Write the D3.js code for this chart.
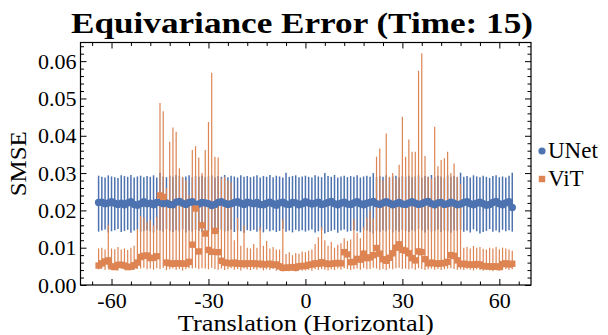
<!DOCTYPE html>
<head>
    <meta charset="utf-8">
    <script src="https://d3js.org/d3.v7.min.js"></script>
    <style>
        body { margin: 0; background: #fff; }
        text { font-family: "Liberation Serif", "Times New Roman", Times, serif; fill: #000; }
    </style>
</head>
<body>
    <svg width="608" height="335"></svg>
    <script>
        var width = 608, height = 335;

        // translations (pixels), -64 .. 64
        var translations = d3.range(-64, 65);

        var unetMean = [
            0.0221,0.0222,0.0218,0.0220,0.0223,0.0219,0.0216,0.0219,0.0215,0.0220,0.0223,0.0216,0.0214,0.0218,0.0223,0.0218,
            0.0219,0.0215,0.0221,0.0222,0.0218,0.0220,0.0216,0.0215,0.0222,0.0224,0.0219,0.0216,0.0221,0.0223,0.0216,0.0217,
            0.0221,0.0220,0.0218,0.0213,0.0216,0.0221,0.0223,0.0219,0.0216,0.0218,0.0221,0.0223,0.0219,0.0216,0.0222,0.0220,
            0.0218,0.0221,0.0216,0.0215,0.0219,0.0222,0.0218,0.0214,0.0220,0.0222,0.0217,0.0216,0.0221,0.0220,0.0215,0.0218,
            0.0223,0.0220,0.0217,0.0219,0.0222,0.0216,0.0218,0.0221,0.0224,0.0218,0.0215,0.0219,0.0222,0.0217,0.0216,0.0220,
            0.0223,0.0218,0.0215,0.0219,0.0221,0.0224,0.0218,0.0216,0.0220,0.0223,0.0219,0.0215,0.0218,0.0221,0.0217,0.0216,
            0.0220,0.0223,0.0219,0.0216,0.0218,0.0222,0.0224,0.0218,0.0215,0.0220,0.0221,0.0216,0.0218,0.0222,0.0219,0.0215,
            0.0217,0.0221,0.0223,0.0218,0.0215,0.0219,0.0222,0.0218,0.0214,0.0216,0.0221,0.0224,0.0218,0.0215,0.0220,0.0223,
            0.0208];
        var unetHi = [
            0.0293,0.0290,0.0288,0.0294,0.0291,0.0289,0.0287,0.0294,0.0292,0.0290,0.0295,0.0288,0.0291,0.0293,0.0289,0.0292,
            0.0290,0.0294,0.0288,0.0301,0.0291,0.0289,0.0293,0.0290,0.0295,0.0292,0.0288,0.0291,0.0294,0.0289,0.0292,0.0290,
            0.0293,0.0289,0.0291,0.0294,0.0288,0.0292,0.0290,0.0295,0.0289,0.0293,0.0291,0.0288,0.0294,0.0290,0.0292,0.0289,
            0.0291,0.0294,0.0288,0.0292,0.0290,0.0295,0.0289,0.0293,0.0291,0.0288,0.0301,0.0290,0.0292,0.0294,0.0289,0.0291,
            0.0293,0.0290,0.0288,0.0294,0.0291,0.0289,0.0300,0.0292,0.0290,0.0295,0.0288,0.0291,0.0293,0.0289,0.0292,0.0290,
            0.0294,0.0288,0.0291,0.0293,0.0290,0.0300,0.0289,0.0292,0.0290,0.0294,0.0288,0.0291,0.0293,0.0289,0.0292,0.0290,
            0.0293,0.0289,0.0291,0.0294,0.0288,0.0292,0.0290,0.0295,0.0289,0.0293,0.0291,0.0288,0.0294,0.0290,0.0292,0.0289,
            0.0301,0.0290,0.0292,0.0288,0.0294,0.0291,0.0289,0.0293,0.0290,0.0287,0.0292,0.0294,0.0289,0.0291,0.0288,0.0293,
            0.0301];
        var unetLo = [
            0.0143,0.0146,0.0149,0.0141,0.0144,0.0147,0.0150,0.0142,0.0145,0.0148,0.0140,0.0146,0.0149,0.0143,0.0145,0.0147,
            0.0144,0.0141,0.0148,0.0146,0.0143,0.0150,0.0145,0.0142,0.0147,0.0144,0.0149,0.0141,0.0146,0.0143,0.0148,0.0145,
            0.0142,0.0147,0.0144,0.0150,0.0146,0.0141,0.0148,0.0143,0.0145,0.0149,0.0142,0.0146,0.0144,0.0140,0.0147,0.0145,
            0.0148,0.0143,0.0146,0.0141,0.0149,0.0144,0.0147,0.0142,0.0145,0.0150,0.0143,0.0146,0.0141,0.0148,0.0144,0.0147,
            0.0143,0.0146,0.0149,0.0141,0.0144,0.0147,0.0138,0.0142,0.0145,0.0148,0.0140,0.0146,0.0149,0.0143,0.0145,0.0147,
            0.0144,0.0141,0.0148,0.0146,0.0143,0.0138,0.0145,0.0142,0.0147,0.0144,0.0149,0.0141,0.0146,0.0143,0.0148,0.0145,
            0.0142,0.0147,0.0144,0.0150,0.0146,0.0141,0.0148,0.0143,0.0145,0.0149,0.0142,0.0146,0.0144,0.0140,0.0147,0.0145,
            0.0148,0.0143,0.0146,0.0141,0.0149,0.0144,0.0138,0.0142,0.0145,0.0150,0.0143,0.0146,0.0141,0.0148,0.0144,0.0147,
            0.0143];

        var vitMean = [
            0.0052,0.0058,0.0063,0.0066,0.0050,0.0048,0.0054,0.0054,0.0052,0.0048,0.0049,0.0053,0.0060,0.0075,0.0078,0.0079,
            0.0072,0.0073,0.0077,0.0240,0.0236,0.0060,0.0058,0.0057,0.0058,0.0058,0.0057,0.0057,0.0062,0.0108,0.0205,0.0090,
            0.0160,0.0138,0.0094,0.0089,0.0145,0.0088,0.0065,0.0060,0.0059,0.0058,0.0060,0.0057,0.0058,0.0056,0.0058,0.0057,
            0.0058,0.0056,0.0057,0.0055,0.0056,0.0057,0.0054,0.0055,0.0050,0.0046,0.0046,0.0047,0.0048,0.0046,0.0050,0.0051,
            0.0051,0.0054,0.0055,0.0058,0.0057,0.0061,0.0058,0.0056,0.0057,0.0058,0.0059,0.0058,0.0088,0.0082,0.0061,0.0062,
            0.0070,0.0068,0.0084,0.0072,0.0074,0.0080,0.0099,0.0084,0.0069,0.0065,0.0073,0.0085,0.0100,0.0109,0.0094,0.0092,
            0.0085,0.0072,0.0066,0.0090,0.0088,0.0069,0.0058,0.0060,0.0058,0.0057,0.0058,0.0059,0.0062,0.0080,0.0078,0.0066,
            0.0056,0.0057,0.0055,0.0055,0.0054,0.0056,0.0055,0.0051,0.0050,0.0050,0.0049,0.0050,0.0048,0.0056,0.0058,0.0055,
            0.0057];
        var vitHi = [
            0.0098,0.0100,0.0095,0.0160,0.0098,0.0096,0.0102,0.0095,0.0098,0.0094,0.0100,0.0105,0.0150,0.0185,0.0180,0.0168,
            0.0175,0.0160,0.0182,0.0488,0.0466,0.0260,0.0384,0.0422,0.0411,0.0313,0.0290,0.0280,0.0240,0.0362,0.0372,0.0342,
            0.0300,0.0362,0.0437,0.0569,0.0344,0.0342,0.0285,0.0290,0.0280,0.0275,0.0120,0.0180,0.0105,0.0160,0.0100,0.0098,
            0.0110,0.0100,0.0155,0.0105,0.0118,0.0098,0.0102,0.0095,0.0095,0.0176,0.0083,0.0088,0.0080,0.0086,0.0084,0.0090,
            0.0088,0.0092,0.0095,0.0110,0.0128,0.0155,0.0120,0.0105,0.0115,0.0100,0.0108,0.0112,0.0125,0.0118,0.0122,0.0176,
            0.0140,0.0125,0.0155,0.0180,0.0200,0.0178,0.0344,0.0366,0.0280,0.0406,0.0290,0.0300,0.0285,0.0322,0.0451,0.0344,
            0.0390,0.0357,0.0357,0.0574,0.0621,0.0346,0.0290,0.0285,0.0424,0.0318,0.0335,0.0340,0.0357,0.0300,0.0326,0.0290,
            0.0270,0.0100,0.0102,0.0098,0.0105,0.0100,0.0102,0.0097,0.0095,0.0100,0.0098,0.0102,0.0096,0.0100,0.0098,0.0095,
            0.0092];
        var vitLo = [
            0.0042,0.0044,0.0040,0.0045,0.0041,0.0043,0.0039,0.0044,0.0042,0.0040,0.0045,0.0041,0.0043,0.0044,0.0046,0.0042,
            0.0044,0.0041,0.0045,0.0043,0.0046,0.0040,0.0042,0.0044,0.0041,0.0043,0.0039,0.0042,0.0045,0.0044,0.0046,0.0043,
            0.0045,0.0044,0.0042,0.0046,0.0043,0.0041,0.0044,0.0040,0.0042,0.0045,0.0041,0.0043,0.0039,0.0044,0.0042,0.0040,
            0.0043,0.0041,0.0044,0.0039,0.0042,0.0040,0.0043,0.0038,0.0041,0.0036,0.0038,0.0037,0.0039,0.0036,0.0040,0.0038,
            0.0039,0.0041,0.0038,0.0042,0.0040,0.0043,0.0041,0.0039,0.0042,0.0040,0.0044,0.0041,0.0045,0.0043,0.0040,0.0042,
            0.0044,0.0041,0.0045,0.0042,0.0043,0.0046,0.0044,0.0041,0.0043,0.0040,0.0044,0.0042,0.0045,0.0046,0.0043,0.0044,
            0.0042,0.0044,0.0041,0.0045,0.0043,0.0040,0.0042,0.0044,0.0041,0.0043,0.0040,0.0042,0.0044,0.0045,0.0043,0.0041,
            0.0042,0.0040,0.0043,0.0041,0.0039,0.0042,0.0040,0.0038,0.0041,0.0039,0.0037,0.0040,0.0038,0.0041,0.0043,0.0040,
            0.0042];

        var xTicks = [-60, -30, 0, 30, 60];
        var yTicks = [0, 0.01, 0.02, 0.03, 0.04, 0.05, 0.06];
        var seriesNames = ["UNet", "ViT"];
        var colors = ["#4c72b0", "#dd8452"];

        // plot frame (pixels)
        var fLeft = 80.5, fRight = 531, fTop = 42.5, fBottom = 285;
        var svg = d3.select("svg");
        var serif = '"Liberation Serif", "Times New Roman", Times, serif';

        var x = d3.scaleLinear().domain([-69.6, 69.8]).range([fLeft, fRight]);
        var y = d3.scaleLinear().domain([0, 0.065]).range([fBottom, fTop]);

        var xMinor = d3.range(-66, 67, 6).filter(d => xTicks.indexOf(d) < 0);
        var yMinor = d3.range(1, 33).filter(d => d % 5 != 0).map(d => d * 0.002);

        var unet = translations.map((t, i) => ({ t: t, m: unetMean[i], lo: unetLo[i], hi: unetHi[i] }));
        var vit = translations.map((t, i) => ({ t: t, m: vitMean[i], lo: vitLo[i], hi: vitHi[i] }));

        // error bars
        svg.append("g")
            .attr("stroke", colors[0])
            .attr("stroke-width", 1.5)
            .selectAll("line")
            .data(unet)
            .enter().append("line")
            .attr("x1", d => x(d.t)).attr("x2", d => x(d.t))
            .attr("y1", d => y(d.lo)).attr("y2", d => y(d.hi));

        svg.append("g")
            .attr("stroke", colors[1])
            .attr("stroke-width", 1.2)
            .selectAll("line")
            .data(vit)
            .enter().append("line")
            .attr("x1", d => x(d.t)).attr("x2", d => x(d.t))
            .attr("y1", d => y(d.lo)).attr("y2", d => y(d.hi));

        // points
        svg.append("g")
            .attr("fill", colors[0])
            .selectAll("circle")
            .data(unet)
            .enter().append("circle")
            .attr("cx", d => x(d.t))
            .attr("cy", d => y(d.m))
            .attr("r", 3.7);

        svg.append("g")
            .attr("fill", colors[1])
            .selectAll("rect")
            .data(vit)
            .enter().append("rect")
            .attr("x", d => x(d.t) - 3.2)
            .attr("y", d => y(d.m) - 3.2)
            .attr("width", 6.4)
            .attr("height", 6.4);

        // frame + ticks (inward)
        function styleAxis(g) {
            g.select(".domain").remove();
            g.selectAll("line").attr("stroke", "#000").attr("stroke-width", 1);
            g.selectAll("text").attr("font-family", null).style("font-family", serif).style("font-size", "22px");
        }

        svg.append("g").attr("transform", `translate(0,${fBottom})`)
            .call(d3.axisBottom(x).tickValues(xTicks).tickFormat(d => String(d))
                .tickSizeInner(-6).tickSizeOuter(0).tickPadding(7))
            .call(styleAxis);
        svg.append("g").attr("transform", `translate(0,${fBottom})`)
            .call(d3.axisBottom(x).tickValues(xMinor).tickFormat("").tickSizeInner(-3.5).tickSizeOuter(0))
            .call(styleAxis);
        svg.append("g").attr("transform", `translate(0,${fTop})`)
            .call(d3.axisTop(x).tickValues(xTicks).tickFormat("").tickSizeInner(-6).tickSizeOuter(0))
            .call(styleAxis);
        svg.append("g").attr("transform", `translate(0,${fTop})`)
            .call(d3.axisTop(x).tickValues(xMinor).tickFormat("").tickSizeInner(-3.5).tickSizeOuter(0))
            .call(styleAxis);

        svg.append("g").attr("transform", `translate(${fLeft},0)`)
            .call(d3.axisLeft(y).tickValues(yTicks).tickFormat(d3.format(".2f"))
                .tickSizeInner(-6).tickSizeOuter(0).tickPadding(4))
            .call(styleAxis);
        svg.append("g").attr("transform", `translate(${fLeft},0)`)
            .call(d3.axisLeft(y).tickValues(yMinor).tickFormat("").tickSizeInner(-3.5).tickSizeOuter(0))
            .call(styleAxis);
        svg.append("g").attr("transform", `translate(${fRight},0)`)
            .call(d3.axisRight(y).tickValues(yTicks).tickFormat("").tickSizeInner(-6).tickSizeOuter(0))
            .call(styleAxis);
        svg.append("g").attr("transform", `translate(${fRight},0)`)
            .call(d3.axisRight(y).tickValues(yMinor).tickFormat("").tickSizeInner(-3.5).tickSizeOuter(0))
            .call(styleAxis);

        svg.append("rect")
            .attr("x", fLeft).attr("y", fTop)
            .attr("width", fRight - fLeft).attr("height", fBottom - fTop)
            .attr("fill", "none").attr("stroke", "#000").attr("stroke-width", 1.2);

        // title + labels
        svg.append("text")
            .attr("x", 302).attr("y", 33)
            .attr("text-anchor", "middle")
            .attr("textLength", 462).attr("lengthAdjust", "spacingAndGlyphs")
            .style("font-family", serif)
            .style("font-size", "29px").style("font-weight", "bold")
            .text("Equivariance Error (Time: 15)");

        svg.append("text")
            .attr("x", (fLeft + fRight) / 2).attr("y", 331)
            .attr("text-anchor", "middle")
            .attr("textLength", 256).attr("lengthAdjust", "spacingAndGlyphs")
            .style("font-family", serif)
            .style("font-size", "23px")
            .text("Translation (Horizontal)");

        svg.append("text")
            .attr("transform", `translate(26,${(fTop + fBottom) / 2}) rotate(-90)`)
            .attr("text-anchor", "middle")
            .attr("textLength", 65).attr("lengthAdjust", "spacingAndGlyphs")
            .style("font-family", serif)
            .style("font-size", "24px")
            .text("SMSE");

        // legend
        var legend = svg.append("g").attr("transform", "translate(542,151)");
        legend.append("circle").attr("cx", 0).attr("cy", 0).attr("r", 3.6).attr("fill", colors[0]);
        legend.append("rect").attr("x", -3.2).attr("y", 28 - 3.2).attr("width", 6.4).attr("height", 6.4).attr("fill", colors[1]);
        legend.selectAll("text")
            .data(seriesNames)
            .enter().append("text")
            .attr("x", 6)
            .attr("y", (d, i) => 6.5 + i * 28)
            .style("font-family", serif)
            .style("font-size", "23px")
            .text(d => d);
    </script>
</body>
